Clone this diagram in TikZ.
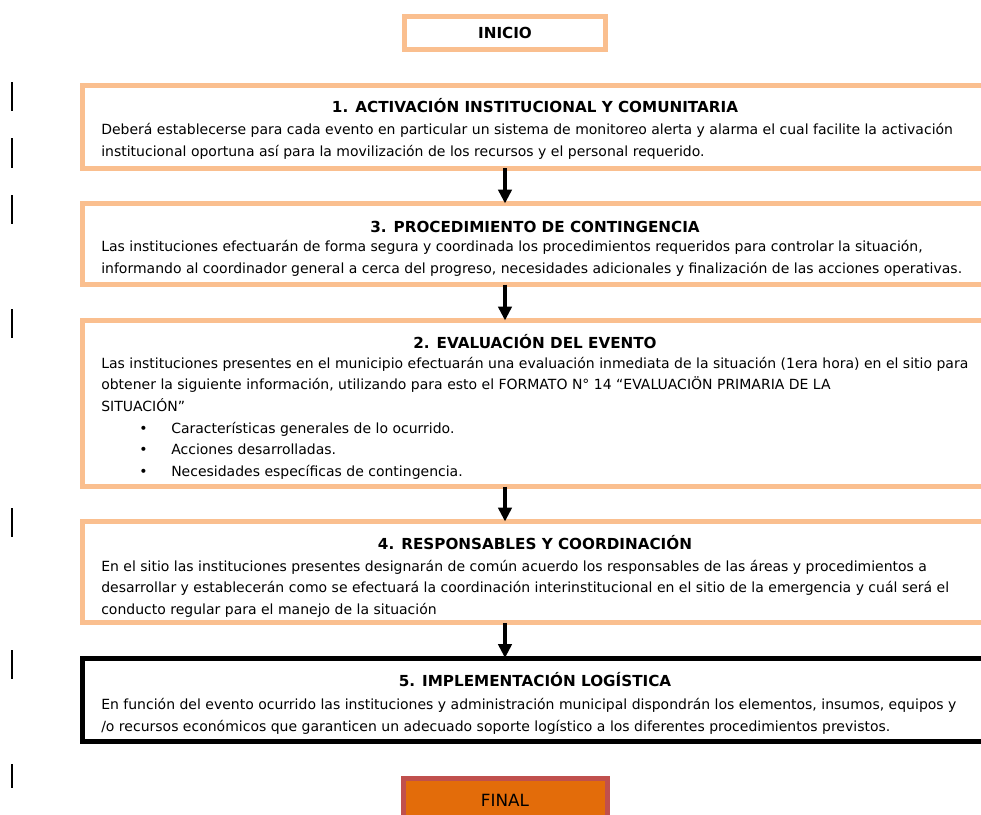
\documentclass[tikz,border=0pt]{standalone}
\usepackage{fontspec}
\setmainfont{DejaVu Sans}
\usetikzlibrary{arrows.meta, positioning}

\definecolor{boxorange}{RGB}{250,191,143}
\definecolor{finalfill}{RGB}{227,108,10}
\definecolor{finalline}{RGB}{192,80,77}

\tikzset{
  stagebox/.style={draw=boxorange, line width=3.75pt, inner sep=0pt, outer sep=0pt},
  stagetitle/.style={anchor=base, font=\fontsize{11.4}{13}\selectfont\bfseries},
  stagebody/.style={anchor=base west, align=left, inner sep=0pt,
    font=\fontsize{10.5}{16.1}\selectfont},
  flowarrow/.style={-{Triangle[width=10pt, length=10.5pt]}, line width=3pt},
}

\begin{document}
\begin{tikzpicture}[x=0.75pt, y=-0.75pt]
  \useasboundingbox (0,0) rectangle (981,814);
  \clip (0,0) rectangle (981,814);

  % change bars in the margin
  \foreach \ya/\yb in {82/111, 138/168, 195/224, 309/338, 508/537, 650/679, 764/788}
    \draw[line width=1.5pt] (12,\ya) -- (12,\yb);

  % texts (body nodes sit on the baseline of their last line)
  \node[stagetitle] (t1) at (535,112) {1. ACTIVACIÓN INSTITUCIONAL Y COMUNITARIA};
  \node[stagebody] (d1) at (101,156) {Deberá establecerse para cada evento en particular un sistema de monitoreo alerta y alarma el cual facilite la activación\\
    institucional oportuna así para la movilización de los recursos y el personal requerido.};

  \node[stagetitle] (t2) at (535,232) {3. PROCEDIMIENTO DE CONTINGENCIA};
  \node[stagebody] (d2) at (101,273) {Las instituciones efectuarán de forma segura y coordinada los procedimientos requeridos para controlar la situación,\\
    informando al coordinador general a cerca del progreso, necesidades adicionales y finalización de las acciones operativas.};

  \node[stagetitle] (t3) at (535,348) {2. EVALUACIÓN DEL EVENTO};
  \node[stagebody] (d3) at (101,411) {Las instituciones presentes en el municipio efectuarán una evaluación inmediata de la situación (1era hora) en el sitio para\\
    obtener la siguiente información, utilizando para esto el FORMATO N° 14 “EVALUACIÖN PRIMARIA DE LA\\
    SITUACIÓN”};
  \node[stagebody] (l3) at (139,476) {\makebox[24pt][l]{•}Características generales de lo ocurrido.\\
    \makebox[24pt][l]{•}Acciones desarrolladas.\\
    \makebox[24pt][l]{•}Necesidades específicas de contingencia.};

  \node[stagetitle] (t4) at (535,549) {4. RESPONSABLES Y COORDINACIÓN};
  \node[stagebody] (d4) at (101,614) {En el sitio las instituciones presentes designarán de común acuerdo los responsables de las áreas y procedimientos a\\
    desarrollar y establecerán como se efectuará la coordinación interinstitucional en el sitio de la emergencia y cuál será el\\
    conducto regular para el manejo de la situación};

  \node[stagetitle] (t5) at (535,686) {5. IMPLEMENTACIÓN LOGÍSTICA};
  \node[stagebody] (d5) at (101,731) {En función del evento ocurrido las instituciones y administración municipal dispondrán los elementos, insumos, equipos y\\
    /o recursos económicos que garanticen un adecuado soporte logístico a los diferentes procedimientos previstos.};

  % boxes
  \node[stagebox, minimum width=150.75pt, minimum height=24.75pt,
    font=\fontsize{11.4}{13}\selectfont\bfseries] (inicio) at (505,33) {INICIO};
  \node[stagebox, minimum width=680.6pt, minimum height=62.25pt] (b1) at (536.25,126.5) {};
  \node[stagebox, minimum width=680.6pt, minimum height=60.75pt] (b2) at (536.25,244) {};
  \node[stagebox, minimum width=680.6pt, minimum height=124.5pt] (b3) at (536.25,403.5) {};
  \node[stagebox, minimum width=680.6pt, minimum height=76.1pt] (b4) at (536.25,572.25) {};
  \node[stagebox, draw=black, minimum width=680.6pt, minimum height=62.6pt] (b5) at (536.25,699.75) {};
  \node[stagebox, draw=finalline, fill=finalfill, minimum width=153pt, minimum height=32.25pt,
    font=\fontsize{12.6}{14}\selectfont] (final) at (505,800) {FINAL};

  % arrows
  \draw[flowarrow] (b1.south -| inicio.south) -- (b2.north -| inicio.south);
  \draw[flowarrow] (b2.south -| inicio.south) -- (b3.north -| inicio.south);
  \draw[flowarrow] (b3.south -| inicio.south) -- (b4.north -| inicio.south);
  \draw[flowarrow] (b4.south -| inicio.south) -- (b5.north -| inicio.south);
\end{tikzpicture}
\end{document}
